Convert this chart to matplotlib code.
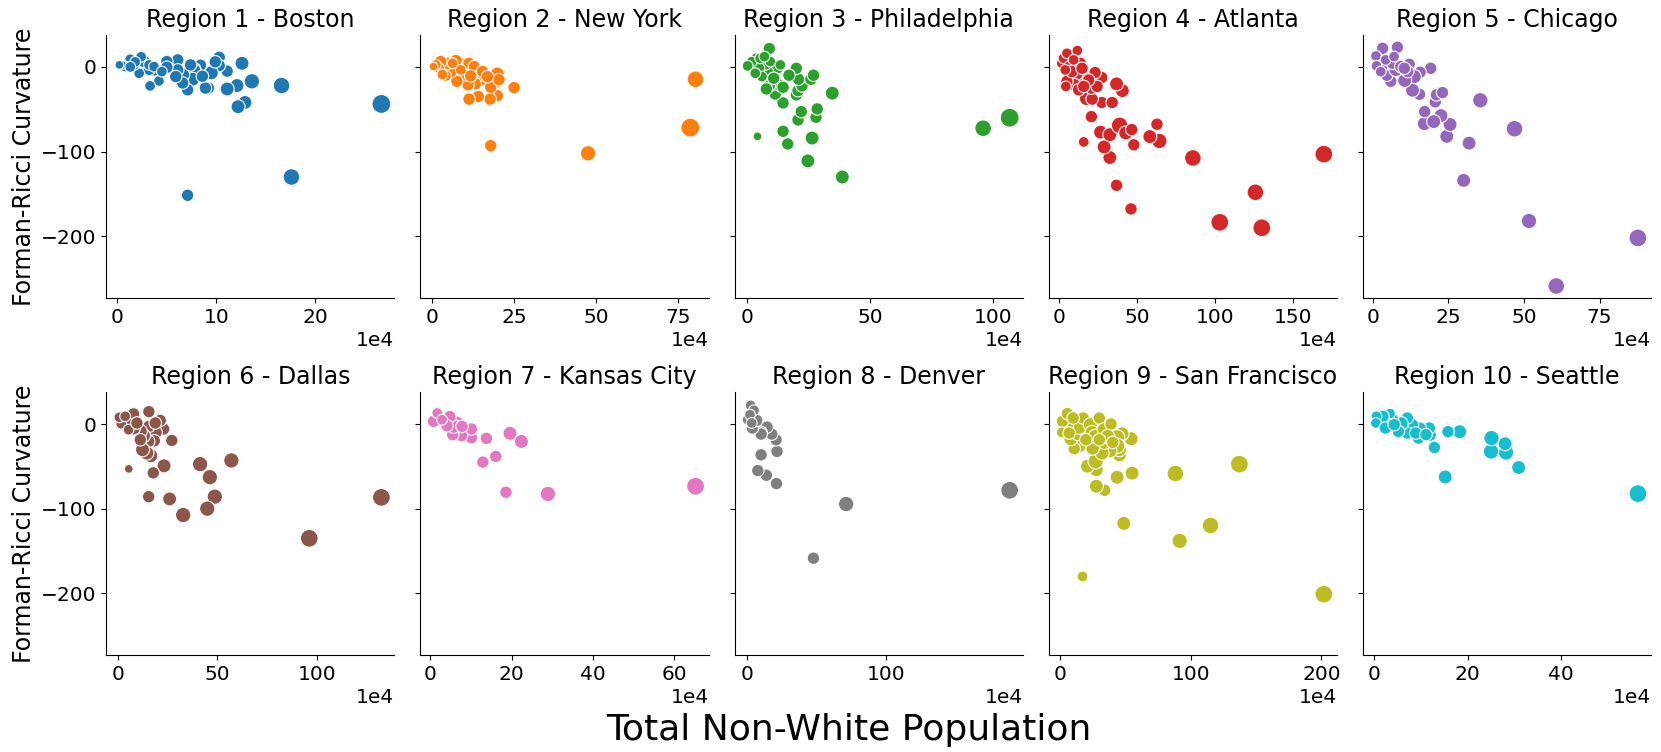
import numpy as np
import pandas as pd
import matplotlib
matplotlib.use("Agg")
import matplotlib.pyplot as plt
import seaborn as sns

# x values in units of 1e4 people, y = Forman-Ricci curvature, s = marker size level
boston_x = [26.7, 17.6, 7.1, 16.6, 13.6, 12.6, 12.9, 12.2, 12.1, 11.1, 11.1, 10.3, 10.3, 9.5, 9.2, 8.9,
            8.4, 7.8, 7.8, 7.6, 7.1, 6.6, 6.6, 6.1, 6.1, 5.9, 5.0, 5.0, 4.2, 3.7, 3.2, 3.3, 2.7, 2.2,
            1.7, 1.3, 0.8, 0.5, 0.2, 2.4, 1.8, 1.3, 3.2, 8.6, 9.9, 7.4, 3.7, 4.5]
boston_y = [-43.7, -130, -151.6, -22, -17, 4.3, -42, -47, -22, -26, -5, 11.4, 1.6, -7, -25, -25,
            2, -2.4, -4, -14.6, -27, -9.4, -19, 8.3, -3.5, -11.4, 6.3, -0.4, -16.5, -3.5, -2.8, -22.4,
            6.3, -7.5, 2.4, 9, 0.4, 2.4, 2.4, 12, 6, 0, 2.4, -11, 6, 2.4, 0.4, -5.5]
boston_s = [5, 4, 2.5, 4, 3.5, 3, 3, 3, 3, 3, 2.5, 2.5, 2.5, 3, 2.5, 2.5,
            2.5, 2.5, 2.5, 3, 2.5, 3, 2.5, 2.5, 2.5, 2.5, 2.5, 2.5, 2, 2.5, 2.5, 2, 2.5, 2,
            2, 2, 2, 1.5, 1.5, 2, 2, 2, 2, 2.5, 2.5, 2.5, 2, 2]

newyork_x = [80.2, 78.6, 47.5, 17.9, 25.0, 19.9, 18.9, 19.9, 17.7, 17.9, 14.1, 11.3, 14.9, 13.2, 11.0,
             9.8, 7.6, 9.1, 7.3, 11.3, 12.9, 5.8, 4.8, 2.7, 2.2, 1.2, 0.5, 4.3, 15.4, 20.4, 6.3, 3.2,
             11.8, 8.8, 16.9]
newyork_y = [-14.6, -71.7, -102, -93, -24.4, -8.3, -20, -34, -38, -24, -35, -38, -15, -20, -21,
             -9.4, -17, 3.5, 7.5, 4.3, 0.4, -5.5, 4.3, 6.3, -1.6, 2.4, 0.4, -10.6, -5.5, -15, 4.3, -9,
             -10.6, -3.5, -11.4]
newyork_s = [4, 5, 3.5, 2.5, 2.5, 3, 2.5, 2.5, 2.5, 2.5, 2.5, 2.5, 2.5, 2.5, 2.5,
             2.5, 2.5, 2.5, 2.5, 2.5, 2.5, 2.5, 2.5, 2.5, 2, 2, 1.5, 2, 2.5, 2.5, 2, 2,
             2.5, 2, 2.5]

phila_x = [106.9, 96.1, 38.8, 24.8, 26.5, 16.6, 14.7, 4.3, 20.8, 22.1, 28.1, 28.6, 34.7, 14.7, 11.5,
           20.1, 20.8, 22.4, 21.0, 26.0, 27.1, 20.1, 17.1, 12.9, 14.7, 9.1, 7.9, 9.1, 12.5, 8.5, 7.5,
           4.7, 3.7, 2.0, 0.3, 6.1, 10.9, 9.5, 13.6, 3.4, 5.4, 7.1]
phila_y = [-60, -72.4, -130, -111, -84, -91, -76, -82, -62.6, -52.8, -59.4, -49.6, -31, -42.5, -32,
           -33, -28, -22.4, -14.6, -14.6, -9.8, -1.6, -9.8, -21, -24, -22.4, -26, 21.7, -0.8, -6.7, 3.5,
           -1.6, 10, 6.3, 1.2, -11.4, -13.4, 6.3, 2.4, -7.5, 10.2, 12.2]
phila_s = [5, 4, 3, 3, 3, 2.5, 2.5, 1.5, 2.5, 2.5, 2.5, 2.5, 3, 2.5, 2.5,
           2.5, 2.5, 2.5, 2.5, 2.5, 2.5, 2.5, 2.5, 2.5, 2.5, 2.5, 2.5, 2.5, 2.5, 2.5, 2.5,
           2.5, 2, 2, 2, 2, 2.5, 2, 2, 2, 2, 2]

atlanta_x = [170, 130.1, 126, 103.1, 85.8, 64.2, 58.1, 62.7, 46.0, 36.7, 32.4, 28.7, 26.4, 32.4, 38.7,
             42.6, 46.5, 47.8, 15.6, 20.5, 27.2, 33.9, 40.4, 36.7, 27.2, 22.9, 17.3, 21.0, 20.5, 24.2,
             16.2, 11.2, 9.7, 4.8, 4.1, 1.5, 2.6, 4.8, 11.5, 6.9, 8.0, 13.4, 14.5, 18.8, 12.3, 3.7,
             9.1, 15.6]
atlanta_y = [-103, -190, -148, -183.5, -107.5, -87.4, -82.3, -67.7, -167.7, -139.8, -107, -94.5, -77, -80, -69,
             -78, -74, -92, -88.6, -58.7, -42, -42, -28, -20, -12.6, -6.7, -37.4, -38, -25, -23,
             -12.6, -8.3, -21, -17, -23, 4.3, 10.2, 16.1, 19.3, 0.4, -5.5, 4.3, -1.6, -15.4, -27, -3.5,
             8.3, -23]
atlanta_s = [4.5, 4.5, 4, 4.5, 4, 3.5, 3, 2.5, 2.5, 2.5, 3, 3, 3, 3, 4,
             3, 2.5, 2.5, 2, 2.5, 2.5, 2.5, 3, 3, 2.5, 2.5, 3, 2.5, 2.5, 2.5,
             2.5, 2.5, 2.5, 2.5, 2, 2, 2, 2, 2, 2.5, 2.5, 2.5, 2.5, 2.5, 2.5, 2,
             2, 2.5]

chicago_x = [87.7, 60.7, 51.7, 46.9, 30.1, 31.9, 35.6, 24.5, 25.6, 22.6, 17.1, 20.2, 17.2, 20.7, 21.1,
             23.1, 19.2, 15.5, 13.2, 15.7, 13.8, 10.6, 6.0, 4.7, 7.7, 12.1, 8.2, 3.3, 1.1, 3.4, 1.3,
             6.6, 4.3, 9.3, 2.7, 11.6, 7.1, 10.5]
chicago_y = [-202, -258.7, -182, -73, -134, -90, -39.4, -82, -68, -57.5, -67, -64.6, -52.8, -41.3, -33,
             -30.3, -1.6, -32.3, -27.6, -6.3, -11.4, -16, -17, -9.8, -3.1, 3.1, 23.2, 22, 13, 0.4, 1.2,
             4.3, 8.3, 0.4, -5.5, -5.5, 12.2, -1.6]
chicago_s = [4.5, 4, 3.5, 4, 3, 3, 3.5, 3, 3, 3, 3, 3, 2.5, 2.5, 2.5,
             2.5, 2.5, 2.5, 3, 2.5, 3, 3, 2.5, 2.5, 3, 2.5, 2.5, 2.5, 2, 2, 2,
             2.5, 2, 2.5, 2, 2.5, 2, 2.5]

dallas_x = [132.3, 96.1, 57.0, 41.3, 46.2, 48.7, 44.9, 32.8, 26.0, 15.5, 23.2, 17.8, 5.5, 27.1, 23.0,
            21.3, 18.8, 18.3, 15.5, 16.6, 14.6, 12.4, 15.6, 15.6, 12.9, 11.3, 7.9, 7.9, 5.0, 1.7, 0.8,
            3.7, 5.4, 9.6, 11.3, 18.8]
dallas_y = [-86.6, -135, -43, -47.4, -62.8, -85.8, -100, -107.5, -88.5, -85.8, -49.4, -57.7, -53, -19.4, -5.9,
            4.3, -9.9, -19.8, -20.6, -37.5, -34.4, -30.4, 14.6, -2.8, -13.8, -8.7, 11.9, -4.7, 0.4, 0.4, 7.9,
            9.1, -6.7, 1.2, -18.6, 1.2]
dallas_s = [4.5, 4.5, 3.5, 3.5, 3.5, 3.5, 3.5, 3.5, 3, 2.5, 3, 2.5, 1.5, 2.5, 2.5,
            2.5, 3, 2.5, 2.5, 3, 3, 3, 2.5, 2.5, 3, 3, 2.5, 3, 2.5, 2, 2,
            2, 2, 2.5, 2.5, 2.5]

kansas_x = [65.2, 28.9, 18.6, 12.9, 16.1, 13.8, 19.6, 22.4, 10.1, 10.1, 7.7, 5.5, 6.6, 5.8, 4.8,
            4.1, 1.9, 0.8, 1.7, 2.9, 7.8]
kansas_y = [-73.5, -82.6, -80.6, -45, -38.3, -17, -11, -20.6, -16.2, -5.9, -13.8, -12.6, 2, -2.8, 8.7,
            -2, 7.9, 3.2, 13, 5.1, -2.8]
kansas_s = [4.5, 3.5, 2.5, 2.5, 2.5, 2.5, 3, 3, 2.5, 2.5, 2.5, 2.5, 2.5, 3, 2.5,
            2.5, 2, 2.5, 2, 2, 2.5]

denver_x = [189.4, 71.3, 47.7, 21.0, 13.7, 7.5, 9.9, 21.4, 20.7, 17.6, 14.2, 9.9, 9.9, 3.6, 6.7,
            0.2, 2.4, 4.8, 1.9, 3.1]
denver_y = [-78.3, -94.5, -158.5, -70.4, -60.5, -55, -36.4, -32.4, -18.6, -11.9, -3.6, -9.9, -11.9, -4.7, 4.3,
            5.1, 22, 16.2, 11, 1.2]
denver_s = [4.5, 3.5, 2.5, 2.5, 2.5, 2.5, 2.5, 2.5, 2.5, 2.5, 2.5, 2.5, 2.5, 2.5, 2.5,
            2, 2, 2, 2, 2]

sanfran_x = [201.8, 137.2, 115.1, 91.5, 88.2, 48.7, 17.2, 55.1, 43.6, 34.1, 27.7, 27.7, 21.0, 27.2, 54.4,
             47.4, 43.6, 45.4, 45.4, 43.6, 38.2, 32.1, 33.8, 24.9, 14.6, 10.8, 8.2, 13.8, 14.6, 17.7,
             23.1, 24.4, 26.9, 30.0, 33.8, 39.0, 36.4, 4.9, 1.8, 5.6, 10.0, 1.3, 6.9, 19.7, 30.0, 40.3]
sanfran_y = [-201, -47.4, -119.8, -138, -58.5, -117.4, -180, -58, -62.8, -78.3, -73.5, -54, -49.8, -43.9, -17.4,
             -11.5, -15.8, -36.4, -30.4, -25.7, -31.6, -34.4, -21.7, -28.5, -25.7, -29.2, -17.4, -11.5, -4, 7.1,
             -0.8, -9.9, -14.6, 7.1, -6.7, 0, -14.6, -2.8, 3.2, 12.3, 7.1, -9.9, -10.7, -18.6, -18.6, -21.7]
sanfran_s = [4.5, 4.5, 4, 3.5, 4, 3, 2, 3, 3, 2.5, 3, 3, 3, 3.5, 3,
             3, 3.5, 3, 3, 3.5, 3, 3, 3, 3, 3, 2.5, 3, 3, 3, 2.5,
             3, 3, 3, 2.5, 3, 2.5, 3, 3, 2.5, 2.5, 2.5, 2, 2.5, 2.5, 2.5, 2.5]

seattle_x = [56.4, 15.2, 30.9, 28.2, 28.0, 25.0, 25.1, 18.3, 15.8, 12.9, 12.0, 11.8, 9.8, 9.5, 8.2,
             7.1, 7.1, 5.8, 5.2, 3.9, 3.4, 2.4, 1.9, 0.5, 0.4, 2.4, 4.3, 8.9, 11.1]
seattle_y = [-82.2, -62.5, -51.4, -33.6, -23.3, -32.4, -16.6, -9.1, -9.1, -27.7, -13, -4.7, -5.9, -16.6, -0.8,
             -10.7, 7.1, 0.4, -8.7, 5.9, 12.3, 1.2, 9.1, 9.1, 1.2, -4.7, -0.8, -10.7, -12.6]
seattle_s = [4.5, 3, 3, 3.5, 3, 3.5, 3.5, 3, 2.5, 2.5, 2.5, 2.5, 3, 2.5, 2.5,
             2.5, 2.5, 3, 2.5, 2.5, 2, 2.5, 2.5, 2, 2, 2.5, 2.5, 2.5, 2.5]

titles = ["Region 1 - Boston", "Region 2 - New York", "Region 3 - Philadelphia",
          "Region 4 - Atlanta", "Region 5 - Chicago", "Region 6 - Dallas",
          "Region 7 - Kansas City", "Region 8 - Denver", "Region 9 - San Francisco",
          "Region 10 - Seattle"]
xs = [boston_x, newyork_x, phila_x, atlanta_x, chicago_x, dallas_x, kansas_x, denver_x, sanfran_x, seattle_x]
ys = [boston_y, newyork_y, phila_y, atlanta_y, chicago_y, dallas_y, kansas_y, denver_y, sanfran_y, seattle_y]
ss = [boston_s, newyork_s, phila_s, atlanta_s, chicago_s, dallas_s, kansas_s, denver_s, sanfran_s, seattle_s]

colors = sns.color_palette("tab10", 10)

fig, axes = plt.subplots(2, 5, figsize=(16.61, 7.52), dpi=100, sharey=True)
fig.subplots_adjust(left=0.064, right=0.994, top=0.953, bottom=0.129, wspace=0.09, hspace=0.36)

for i, ax in enumerate(axes.flat):
    df = pd.DataFrame({"pop": np.array(xs[i]) * 1e4, "frc": ys[i], "w": ss[i]})
    sns.scatterplot(data=df, x="pop", y="frc", size="w", sizes=(40, 185), size_norm=(1.5, 5),
                    color=colors[i], edgecolor="white", linewidth=0.8, legend=False, ax=ax)
    ax.set_title(titles[i], fontsize=17)
    ax.set_xlabel("")
    ax.set_ylabel("Forman-Ricci Curvature" if i % 5 == 0 else "", fontsize=17)
    ax.ticklabel_format(axis="x", style="sci", scilimits=(4, 4))
    ax.tick_params(labelsize=14.5)
    ax.xaxis.get_offset_text().set_fontsize(14.5)
    sns.despine(ax=ax)

fig.supxlabel("Total Non-White Population", fontsize=26, x=0.511, y=0.006)

fig.savefig("out.png", dpi=100)
